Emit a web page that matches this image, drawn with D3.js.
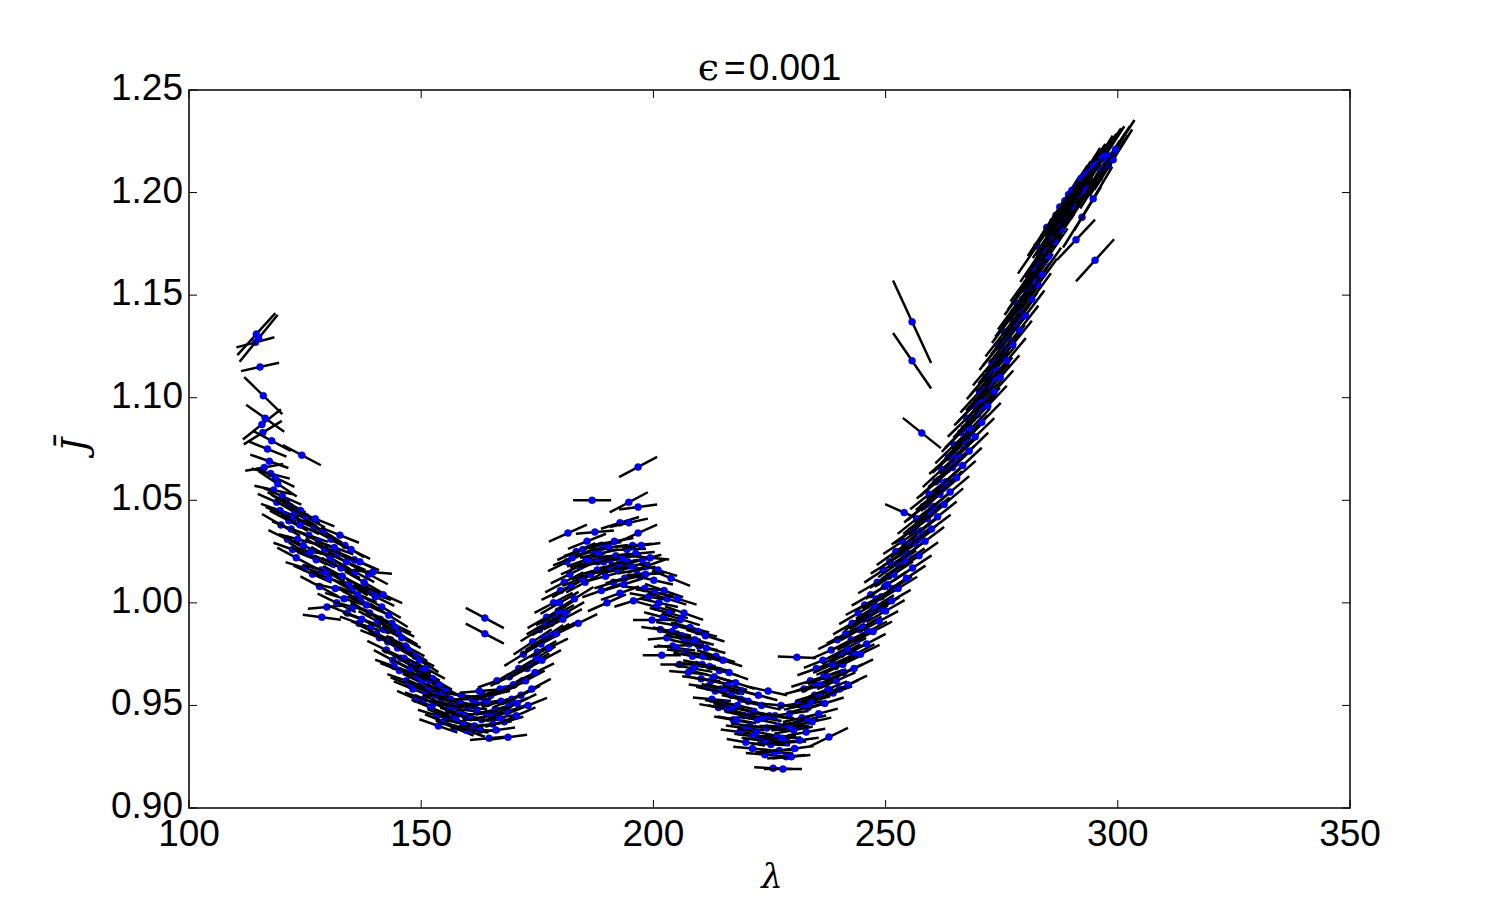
<!DOCTYPE html>
<html>
<head>
<meta charset="utf-8">
<script src="https://cdn.jsdelivr.net/npm/d3@7/dist/d3.min.js"></script>
<style>
  html, body { margin: 0; padding: 0; background: #fff; }
  svg { display: block; }
</style>
</head>
<body>
<div id="chart"></div>
<script>
// Scatter of J-bar against lambda, each point drawn with its local gradient
// as a short black segment. Rows are [lambda, jbar, slope dJ/dlambda].

const xTicks = [100, 150, 200, 250, 300, 350];
const yTicks = [0.90, 0.95, 1.00, 1.05, 1.10, 1.15, 1.20, 1.25];
const titleValue = "0.001";

// steep start, lambda 113-125
const leftBranch = [
  [114.5, 1.131, 0.0025], [114.3, 1.127, 0.0006], [115.0, 1.129, 0.0028], [115.3, 1.115, 0.0005],
  [116.0, 1.101, -0.0022], [116.4, 1.090, -0.0016], [115.7, 1.087, 0.0018], [117.8, 1.079, -0.0012],
  [115.9, 1.083, 0.0014], [116.9, 1.075, -0.0009], [117.3, 1.069, -0.0008], [116.2, 1.066, 0.0004],
  [117.6, 1.063, -0.0006], [118.6, 1.061, -0.0011], [124.3, 1.072, -0.0012], [119.1, 1.058, -0.0015],
  [118.2, 1.055, -0.0005], [120.1, 1.052, -0.0010], [121.0, 1.049, -0.0012], [119.6, 1.045, -0.0008],
  [121.8, 1.047, -0.0014], [122.5, 1.041, -0.0010]
];

// first descent, lambda 118-161
const firstDescent = [
  [121.5, 1.040, -0.0012], [122.0, 1.036, -0.0009], [122.8, 1.044, -0.0014], [123.4, 1.031, -0.0006],
  [123.9, 1.038, -0.0011], [124.6, 1.028, -0.0010], [125.2, 1.042, -0.0013], [125.8, 1.033, -0.0008],
  [126.3, 1.025, -0.0004], [126.9, 1.037, -0.0012], [127.4, 1.021, -0.0009], [127.9, 1.030, -0.0011],
  [128.5, 1.016, -0.0006], [128.6, 0.993, -0.0003], [129.2, 1.026, -0.0013], [129.7, 0.998, 0.0002],
  [130.1, 1.012, -0.0008], [130.6, 1.031, -0.0012], [131.0, 1.019, -0.0010], [131.5, 1.007, -0.0005],
  [132.0, 1.024, -0.0011], [132.5, 1.033, -0.0009], [133.0, 1.013, -0.0012], [133.4, 1.002, -0.0007],
  [133.9, 1.020, -0.0010], [134.4, 1.009, -0.0013], [134.9, 1.026, -0.0011], [135.3, 0.998, -0.0006],
  [135.8, 1.015, -0.0012], [136.3, 1.004, -0.0009], [136.8, 1.020, -0.0010], [137.2, 0.992, -0.0008],
  [137.7, 1.010, -0.0013], [138.2, 0.999, -0.0010], [138.7, 1.014, -0.0012], [139.1, 0.988, -0.0007],
  [139.6, 1.015, -0.0002], [140.1, 1.003, -0.0011], [140.6, 0.991, -0.0012], [141.0, 0.983, -0.0009],
  [141.5, 0.998, -0.0013], [142.0, 0.987, -0.0010], [142.5, 0.977, -0.0011], [143.0, 0.994, -0.0014],
  [143.4, 0.982, -0.0008], [143.9, 0.972, -0.0012], [144.4, 0.988, -0.0011], [144.9, 0.978, -0.0013],
  [145.3, 0.967, -0.0009], [145.8, 0.983, -0.0012], [146.3, 0.973, -0.0010], [146.8, 0.962, -0.0008],
  [147.2, 0.977, -0.0013], [147.7, 0.968, -0.0011], [148.2, 0.958, -0.0009], [148.7, 0.974, -0.0012],
  [149.1, 0.964, -0.0010], [149.6, 0.972, -0.0014], [150.1, 0.961, -0.0011], [150.6, 0.953, -0.0008],
  [151.0, 0.968, -0.0012], [151.5, 0.958, -0.0010], [152.0, 0.949, -0.0009], [152.5, 0.963, -0.0013],
  [153.0, 0.955, -0.0011], [153.4, 0.945, -0.0007], [153.9, 0.960, -0.0012], [154.4, 0.951, -0.0010],
  [154.9, 0.942, -0.0009], [155.3, 0.957, -0.0008], [155.8, 0.948, -0.0011], [156.3, 0.953, -0.0006],
  [156.8, 0.944, -0.0010], [157.2, 0.939, -0.0009], [157.7, 0.950, -0.0004], [158.2, 0.946, -0.0007],
  [158.7, 0.955, -0.0003], [159.1, 0.941, -0.0005], [159.6, 0.938, -0.0008], [160.1, 0.949, -0.0002],
  [160.6, 0.944, -0.0004], [161.0, 0.953, 0.0000],
  [118.9, 1.049, -0.0010], [119.8, 1.038, -0.0013], [120.6, 1.043, -0.0009], [121.2, 1.031, -0.0011],
  [122.3, 1.026, -0.0008], [123.1, 1.022, -0.0012], [124.0, 1.045, -0.0015], [124.9, 1.017, -0.0007],
  [125.6, 1.024, -0.0013], [126.6, 1.014, -0.0010], [127.2, 1.041, -0.0009], [128.1, 1.008, -0.0012],
  [128.9, 1.035, -0.0014], [129.5, 1.015, -0.0009], [130.4, 1.022, -0.0013], [131.3, 1.027, -0.0008],
  [131.8, 1.000, -0.0011], [132.7, 1.017, -0.0012], [133.6, 1.028, -0.0014], [134.1, 0.995, -0.0009],
  [135.1, 1.006, -0.0013], [135.6, 1.021, -0.0010], [136.6, 0.990, -0.0008], [137.0, 1.001, -0.0012],
  [138.0, 1.007, -0.0011], [138.9, 0.995, -0.0013], [139.4, 1.005, -0.0009], [140.4, 0.985, -0.0011],
  [141.2, 0.992, -0.0012], [141.8, 1.004, -0.0010], [142.8, 0.981, -0.0013], [143.7, 0.990, -0.0011],
  [144.2, 0.969, -0.0008], [145.1, 0.985, -0.0013], [145.6, 0.973, -0.0010], [146.6, 0.979, -0.0012],
  [147.5, 0.960, -0.0009], [148.0, 0.970, -0.0011], [148.9, 0.953, -0.0010], [149.9, 0.967, -0.0012],
  [150.8, 0.957, -0.0013], [151.8, 0.962, -0.0011], [152.7, 0.951, -0.0010], [153.7, 0.940, -0.0008],
  [154.6, 0.956, -0.0012], [155.6, 0.944, -0.0010], [156.5, 0.949, -0.0009], [157.5, 0.943, -0.0007],
  [158.5, 0.951, -0.0006], [159.4, 0.945, -0.0004], [160.4, 0.938, -0.0003]
];

// first minimum, lambda 161-170
const firstMinimum = [
  [161.5, 0.940, 0.0001], [162.0, 0.947, -0.0003], [162.5, 0.957, 0.0002], [163.0, 0.943, 0.0000],
  [163.5, 0.951, 0.0004], [163.7, 0.9926, -0.0012], [163.7, 0.985, -0.0012], [164.0, 0.946, 0.0001],
  [164.6, 0.934, 0.0002], [165.0, 0.955, 0.0005], [165.4, 0.941, 0.0003], [165.9, 0.948, 0.0006],
  [166.3, 0.962, 0.0008], [166.8, 0.944, 0.0004], [167.2, 0.952, 0.0007], [168.7, 0.9345, 0.0003],
  [168.1, 0.958, 0.0009], [168.6, 0.947, 0.0008], [169.0, 0.964, 0.0011], [169.5, 0.953, 0.0010],
  [161.8, 0.951, 0.0002], [162.8, 0.938, -0.0001], [163.3, 0.955, 0.0003], [164.3, 0.951, 0.0002],
  [165.2, 0.945, 0.0004], [166.1, 0.938, 0.0003], [167.0, 0.958, 0.0008], [167.9, 0.942, 0.0006],
  [168.9, 0.950, 0.0009], [169.8, 0.960, 0.0012]
];

// rise and central hump, lambda 170-207
const centralHump = [
  [170.0, 0.960, 0.0012], [170.5, 0.945, 0.0010], [171.0, 0.968, 0.0013], [171.5, 0.955, 0.0011],
  [172.0, 0.975, 0.0014], [172.5, 0.962, 0.0012], [173.0, 0.950, 0.0009], [173.5, 0.970, 0.0013],
  [174.0, 0.981, 0.0015], [174.5, 0.966, 0.0011], [175.0, 0.976, 0.0013], [175.5, 0.987, 0.0014],
  [176.0, 0.972, 0.0012], [176.5, 0.983, 0.0015], [177.0, 0.993, 0.0013], [177.5, 0.978, 0.0011],
  [178.0, 0.990, 0.0014], [178.5, 1.000, 0.0012], [179.0, 0.985, 0.0013], [179.5, 0.996, 0.0015],
  [180.0, 1.006, 0.0011], [180.5, 0.992, 0.0012], [181.0, 0.995, 0.0013], [181.6, 1.034, 0.0010],
  [182.0, 1.014, 0.0011], [182.5, 1.022, 0.0009], [183.0, 1.002, 0.0014], [183.8, 0.990, 0.0011],
  [184.2, 1.018, 0.0010], [184.8, 1.026, 0.0008], [185.3, 1.010, 0.0012], [185.7, 1.030, 0.0009],
  [186.2, 1.020, 0.0007], [186.8, 1.050, 0.0000], [187.4, 1.0345, 0.0002], [187.9, 1.016, 0.0006],
  [188.3, 1.024, 0.0005], [188.8, 1.006, 0.0008], [189.3, 1.020, 0.0004], [190.0, 1.000, 0.0010],
  [190.4, 1.027, 0.0003], [190.9, 1.017, 0.0006], [191.4, 1.010, 0.0007], [191.9, 1.023, 0.0002],
  [192.3, 1.016, 0.0004], [192.8, 1.039, 0.0007], [192.8, 1.0047, 0.0008], [193.3, 1.022, 0.0003],
  [193.8, 1.012, 0.0006], [194.3, 1.026, 0.0001], [194.7, 1.049, 0.0012], [194.7, 1.039, 0.0005],
  [195.2, 1.018, 0.0004], [195.7, 1.001, 0.0007], [196.2, 1.024, 0.0002], [196.7, 1.0662, 0.0012],
  [196.7, 1.0467, 0.0003], [196.7, 1.034, 0.0010], [197.1, 1.013, 0.0005], [197.6, 1.021, 0.0006],
  [198.1, 1.007, -0.0002], [198.6, 1.018, 0.0008], [199.0, 1.003, -0.0004], [199.7, 0.9916, 0.0000],
  [200.1, 1.011, -0.0005], [200.6, 0.998, -0.0006], [201.0, 1.016, -0.0007], [201.5, 0.987, -0.0003],
  [201.8, 0.9745, 0.0000], [202.3, 1.006, -0.0008], [202.9, 0.983, 0.0002], [203.3, 0.995, -0.0006],
  [203.8, 1.012, -0.0009], [204.2, 0.979, 0.0001], [204.7, 0.989, -0.0004], [205.2, 1.002, -0.0007],
  [205.6, 0.970, 0.0000], [206.1, 0.984, -0.0005], [206.6, 0.995, -0.0008],
  [170.7, 0.951, 0.0011], [171.8, 0.962, 0.0013], [172.8, 0.968, 0.0012], [173.8, 0.958, 0.0012],
  [174.8, 0.973, 0.0014], [175.8, 0.980, 0.0012], [176.8, 0.990, 0.0013], [177.8, 0.984, 0.0014],
  [178.8, 0.994, 0.0012], [179.8, 1.000, 0.0013], [180.8, 1.010, 0.0012], [181.4, 1.020, 0.0011],
  [182.3, 1.008, 0.0013], [183.4, 1.025, 0.0010], [184.5, 1.012, 0.0009], [185.5, 1.021, 0.0008],
  [186.5, 1.014, 0.0006], [187.1, 1.025, 0.0005], [188.0, 1.020, 0.0007], [189.0, 1.028, 0.0004],
  [189.7, 1.013, 0.0006], [190.7, 1.021, 0.0005], [191.6, 1.030, 0.0004], [192.6, 1.019, 0.0005],
  [193.6, 1.009, 0.0007], [194.5, 1.020, 0.0003], [195.5, 1.028, 0.0002], [196.4, 1.016, 0.0004],
  [197.4, 1.028, 0.0003], [198.3, 1.014, 0.0001], [199.3, 1.022, -0.0002], [200.3, 1.005, -0.0004],
  [201.2, 1.000, -0.0005], [202.1, 0.993, -0.0006], [203.0, 1.002, -0.0007], [204.0, 0.986, -0.0005],
  [204.9, 0.978, -0.0003], [205.9, 0.992, -0.0007], [206.8, 0.982, -0.0006]
];

// second descent and minimum, lambda 207-240
const secondMinimum = [
  [207.0, 0.976, -0.0003], [207.5, 0.966, -0.0002], [207.9, 0.988, -0.0006], [208.4, 0.974, -0.0004],
  [208.9, 0.982, -0.0006], [209.3, 0.970, -0.0002], [209.8, 0.979, -0.0005], [210.3, 0.963, -0.0003],
  [210.7, 0.974, -0.0006], [211.2, 0.984, -0.0007], [211.7, 0.959, -0.0003], [212.1, 0.969, -0.0005],
  [212.6, 0.953, -0.0002], [213.1, 0.964, -0.0006], [213.5, 0.974, -0.0007], [214.0, 0.949, -0.0004],
  [214.5, 0.958, -0.0006], [215.0, 0.972, -0.0007], [215.4, 0.958, -0.0006], [215.9, 0.948, -0.0005],
  [216.3, 0.966, -0.0008], [216.8, 0.955, -0.0006], [217.2, 0.943, -0.0004], [217.7, 0.961, -0.0007],
  [218.1, 0.950, -0.0005], [218.6, 0.937, -0.0003], [219.0, 0.957, -0.0006], [219.5, 0.945, -0.0005],
  [219.9, 0.932, -0.0004], [220.4, 0.952, -0.0006], [220.8, 0.940, -0.0003], [221.3, 0.929, -0.0002],
  [221.7, 0.947, -0.0005], [222.2, 0.937, -0.0004], [222.6, 0.955, -0.0006], [223.1, 0.933, -0.0003],
  [223.5, 0.944, -0.0004], [224.0, 0.926, -0.0002], [224.4, 0.939, -0.0003], [224.7, 0.957, -0.0005],
  [225.3, 0.931, -0.0001], [225.8, 0.9194, -0.0001], [226.2, 0.945, -0.0003], [226.6, 0.935, 0.0000],
  [227.1, 0.928, 0.0001], [227.5, 0.950, -0.0002], [227.9, 0.919, 0.0000], [228.4, 0.940, 0.0002],
  [228.8, 0.932, 0.0001], [229.3, 0.946, 0.0003], [229.7, 0.925, 0.0002], [230.2, 0.938, 0.0004],
  [230.9, 0.9735, -0.0001], [231.1, 0.951, 0.0004], [231.5, 0.933, 0.0003], [232.0, 0.944, 0.0005],
  [232.4, 0.958, 0.0006], [232.9, 0.937, 0.0004], [233.3, 0.949, 0.0006], [233.8, 0.962, 0.0007],
  [234.2, 0.942, 0.0005], [234.7, 0.955, 0.0007], [235.1, 0.968, 0.0008], [235.6, 0.946, 0.0006],
  [236.0, 0.960, 0.0008], [236.5, 0.972, 0.0009], [236.9, 0.951, 0.0007], [237.4, 0.964, 0.0009],
  [237.8, 0.9346, 0.0011], [238.3, 0.977, 0.0010], [238.7, 0.956, 0.0008], [239.2, 0.969, 0.0010],
  [239.6, 0.982, 0.0011],
  [207.7, 0.980, -0.0005], [208.6, 0.968, -0.0004], [209.6, 0.986, -0.0006], [210.5, 0.970, -0.0005],
  [211.4, 0.978, -0.0006], [212.4, 0.962, -0.0004], [213.3, 0.957, -0.0005], [214.2, 0.967, -0.0006],
  [215.2, 0.951, -0.0004], [216.1, 0.960, -0.0006], [217.0, 0.949, -0.0005], [218.0, 0.943, -0.0004],
  [218.8, 0.953, -0.0005], [219.7, 0.939, -0.0003], [220.6, 0.945, -0.0005], [221.5, 0.935, -0.0003],
  [222.4, 0.943, -0.0004], [223.3, 0.950, -0.0005], [224.2, 0.933, -0.0002], [225.0, 0.945, -0.0003],
  [226.0, 0.927, -0.0001], [226.9, 0.940, 0.0000], [227.7, 0.934, 0.0001], [228.6, 0.925, 0.0002],
  [229.5, 0.939, 0.0003], [230.4, 0.929, 0.0003], [231.3, 0.942, 0.0004], [232.2, 0.950, 0.0005],
  [233.1, 0.943, 0.0005], [234.0, 0.952, 0.0006], [234.9, 0.960, 0.0007], [235.8, 0.955, 0.0008],
  [236.7, 0.964, 0.0008], [237.6, 0.958, 0.0009], [238.5, 0.970, 0.0010], [239.4, 0.962, 0.0010]
];

// final rise, lambda 240-300
const finalRise = [
  [240.1, 0.958, 0.0011], [240.5, 0.975, 0.0012], [241.0, 0.966, 0.0010], [241.4, 0.985, 0.0012],
  [241.9, 0.960, 0.0011], [242.3, 0.976, 0.0012], [242.8, 0.990, 0.0013], [243.2, 0.968, 0.0011],
  [243.7, 0.982, 0.0012], [244.1, 0.995, 0.0013], [244.6, 0.975, 0.0011], [245.0, 0.988, 0.0013],
  [245.5, 0.999, 0.0012], [245.9, 0.980, 0.0012], [246.4, 0.993, 0.0014], [246.8, 1.004, 0.0013],
  [247.3, 0.986, 0.0012], [247.7, 0.998, 0.0014], [248.2, 1.010, 0.0013], [248.6, 0.991, 0.0012],
  [249.1, 1.003, 0.0014], [249.5, 1.016, 0.0015], [250.0, 0.996, 0.0013], [250.4, 1.009, 0.0015],
  [250.9, 1.020, 0.0014], [251.3, 1.001, 0.0013], [251.8, 1.014, 0.0015], [252.2, 1.025, 0.0016],
  [252.7, 1.007, 0.0014], [253.1, 1.018, 0.0016], [254.0, 1.044, -0.0010], [253.6, 1.030, 0.0015],
  [254.5, 1.012, 0.0015], [254.9, 1.024, 0.0017], [255.4, 1.035, 0.0016], [255.7, 1.137, -0.0049],
  [255.7, 1.118, -0.0033], [255.8, 1.017, 0.0015], [256.3, 1.029, 0.0017], [256.7, 1.041, 0.0018],
  [257.2, 1.023, 0.0016], [257.6, 1.035, 0.0018], [257.8, 1.0828, -0.0018], [258.1, 1.047, 0.0019],
  [258.5, 1.030, 0.0017], [259.0, 1.041, 0.0019], [259.4, 1.053, 0.0018], [259.9, 1.036, 0.0017],
  [260.3, 1.047, 0.0019], [260.8, 1.059, 0.0020], [261.2, 1.042, 0.0018], [261.7, 1.053, 0.0020],
  [262.1, 1.065, 0.0021], [262.6, 1.048, 0.0019], [263.0, 1.059, 0.0021], [263.5, 1.071, 0.0020],
  [263.9, 1.054, 0.0019], [264.4, 1.066, 0.0021], [264.8, 1.077, 0.0022], [265.3, 1.061, 0.0020],
  [265.7, 1.072, 0.0022], [266.2, 1.083, 0.0023], [266.6, 1.067, 0.0021], [267.1, 1.079, 0.0023],
  [267.5, 1.090, 0.0022], [268.0, 1.074, 0.0022], [268.4, 1.085, 0.0024], [268.9, 1.096, 0.0023],
  [269.3, 1.081, 0.0022], [269.8, 1.092, 0.0024], [270.2, 1.103, 0.0025], [270.7, 1.088, 0.0023],
  [271.1, 1.099, 0.0025], [271.6, 1.110, 0.0026], [272.0, 1.096, 0.0024], [272.5, 1.106, 0.0026],
  [272.9, 1.117, 0.0027], [273.4, 1.103, 0.0025], [273.8, 1.114, 0.0027], [274.3, 1.125, 0.0028],
  [274.7, 1.110, 0.0026], [275.2, 1.121, 0.0028], [275.6, 1.132, 0.0029], [276.1, 1.118, 0.0027],
  [276.5, 1.129, 0.0029], [277.0, 1.139, 0.0030], [277.4, 1.126, 0.0028], [277.9, 1.136, 0.0030],
  [278.3, 1.146, 0.0031], [278.8, 1.133, 0.0029], [279.2, 1.143, 0.0031], [279.7, 1.153, 0.0031],
  [280.1, 1.140, 0.0030], [280.6, 1.150, 0.0032], [281.0, 1.160, 0.0032], [281.5, 1.148, 0.0031],
  [281.9, 1.157, 0.0032], [282.6, 1.174, 0.0033], [282.8, 1.155, 0.0031], [283.3, 1.165, 0.0033],
  [283.7, 1.160, 0.0032], [284.2, 1.172, 0.0033], [284.7, 1.183, 0.0034], [285.1, 1.169, 0.0033],
  [285.6, 1.178, 0.0034], [286.0, 1.186, 0.0034], [286.5, 1.176, 0.0033], [286.9, 1.184, 0.0034],
  [287.5, 1.193, 0.0035], [287.8, 1.182, 0.0034], [288.3, 1.190, 0.0035], [288.6, 1.196, 0.0035],
  [289.2, 1.188, 0.0034], [289.6, 1.195, 0.0035], [290.1, 1.201, 0.0035], [290.5, 1.193, 0.0034],
  [291.0, 1.177, 0.0024], [291.4, 1.199, 0.0035], [291.9, 1.205, 0.0035], [292.3, 1.188, 0.0036],
  [292.8, 1.203, 0.0035], [293.2, 1.209, 0.0036], [294.0, 1.202, 0.0036], [294.5, 1.211, 0.0035],
  [294.7, 1.197, 0.0038], [295.1, 1.167, 0.0025], [295.6, 1.214, 0.0036], [296.0, 1.207, 0.0036],
  [296.6, 1.217, 0.0035], [297.1, 1.212, 0.0036], [297.6, 1.215, 0.0035], [298.0, 1.213, 0.0036],
  [298.5, 1.218, 0.0035], [299.0, 1.216, 0.0036], [299.5, 1.221, 0.0035],
  [240.8, 0.970, 0.0011], [241.7, 0.978, 0.0012], [242.6, 0.982, 0.0012], [243.5, 0.975, 0.0012],
  [244.4, 0.987, 0.0013], [245.3, 0.992, 0.0013], [246.2, 0.986, 0.0012], [247.1, 0.996, 0.0014],
  [248.0, 1.002, 0.0013], [248.9, 0.997, 0.0014], [249.8, 1.008, 0.0015], [250.7, 1.013, 0.0014],
  [251.6, 1.007, 0.0014], [252.5, 1.019, 0.0016], [253.4, 1.024, 0.0015], [254.3, 1.020, 0.0016],
  [255.2, 1.029, 0.0017], [256.1, 1.036, 0.0017], [257.0, 1.031, 0.0017], [257.9, 1.041, 0.0018],
  [258.8, 1.048, 0.0019], [259.7, 1.044, 0.0018], [260.6, 1.053, 0.0019], [261.5, 1.060, 0.0020],
  [262.4, 1.056, 0.0020], [263.3, 1.065, 0.0021], [264.2, 1.072, 0.0021], [265.1, 1.068, 0.0021],
  [266.0, 1.077, 0.0022], [266.9, 1.085, 0.0023], [267.8, 1.082, 0.0023], [268.7, 1.090, 0.0023],
  [269.6, 1.098, 0.0024], [270.5, 1.095, 0.0024], [271.4, 1.104, 0.0025], [272.3, 1.112, 0.0026],
  [273.2, 1.109, 0.0026], [274.1, 1.118, 0.0027], [275.0, 1.127, 0.0028], [275.9, 1.124, 0.0028],
  [276.8, 1.133, 0.0029], [277.7, 1.142, 0.0030], [278.6, 1.139, 0.0030], [279.5, 1.148, 0.0031],
  [280.4, 1.156, 0.0032], [281.3, 1.153, 0.0031], [282.2, 1.163, 0.0032], [283.1, 1.170, 0.0033],
  [284.0, 1.166, 0.0033], [284.9, 1.176, 0.0034], [285.8, 1.182, 0.0034], [286.7, 1.189, 0.0034],
  [287.6, 1.186, 0.0035], [288.5, 1.193, 0.0035], [289.4, 1.199, 0.0035], [290.3, 1.197, 0.0035],
  [291.2, 1.203, 0.0035], [292.1, 1.207, 0.0036], [293.0, 1.200, 0.0036], [293.9, 1.210, 0.0035],
  [294.8, 1.213, 0.0036], [296.3, 1.211, 0.0035], [297.3, 1.218, 0.0035]
];

// interleave the groups by lambda so overdraw resembles a single sweep
const points = [].concat(leftBranch, firstDescent, firstMinimum, centralHump, secondMinimum, finalRise)
  .slice()
  .sort((a, b) => a[0] - b[0]);

// --- layout ---------------------------------------------------------------
const W = 1500, H = 900;
const plotLeft = 189, plotRight = 1350, plotTop = 90, plotBottom = 808;
const HALF_SPAN = 4.1;   // half width of a gradient segment, in lambda units

const x = d3.scaleLinear().domain([100, 350]).range([plotLeft, plotRight]);
const y = d3.scaleLinear().domain([0.90, 1.25]).range([plotBottom, plotTop]);

const svg = d3.select("#chart").append("svg")
  .attr("width", W)
  .attr("height", H);

svg.append("rect")
  .attr("width", W).attr("height", H)
  .attr("fill", "#fff");

// marks: segment then dot, point by point, so later segments cover earlier dots
const marks = svg.append("g").attr("class", "marks");
const pg = marks.selectAll("g")
  .data(points)
  .enter()
  .append("g");

pg.append("line")
  .attr("x1", (d) => x(d[0] - HALF_SPAN))
  .attr("y1", (d) => y(d[1] - HALF_SPAN * d[2]))
  .attr("x2", (d) => x(d[0] + HALF_SPAN))
  .attr("y2", (d) => y(d[1] + HALF_SPAN * d[2]))
  .attr("stroke", "#000")
  .attr("stroke-width", 2.5);

pg.append("circle")
  .attr("cx", (d) => x(d[0]))
  .attr("cy", (d) => y(d[1]))
  .attr("r", 3.5)
  .attr("fill", "#0000ff")
  .attr("stroke", "#00008a")
  .attr("stroke-width", 0.5);

// frame and inward ticks on all four sides
const axes = svg.append("g").attr("class", "axes");
const TICK = 8;

axes.selectAll("line.xb").data(xTicks).enter().append("line")
  .attr("x1", (d) => x(d)).attr("x2", (d) => x(d))
  .attr("y1", plotBottom).attr("y2", plotBottom - TICK)
  .attr("stroke", "#000").attr("stroke-width", 1);
axes.selectAll("line.xt").data(xTicks).enter().append("line")
  .attr("x1", (d) => x(d)).attr("x2", (d) => x(d))
  .attr("y1", plotTop).attr("y2", plotTop + TICK)
  .attr("stroke", "#000").attr("stroke-width", 1);
axes.selectAll("line.yl").data(yTicks).enter().append("line")
  .attr("x1", plotLeft).attr("x2", plotLeft + TICK)
  .attr("y1", (d) => y(d)).attr("y2", (d) => y(d))
  .attr("stroke", "#000").attr("stroke-width", 1);
axes.selectAll("line.yr").data(yTicks).enter().append("line")
  .attr("x1", plotRight).attr("x2", plotRight - TICK)
  .attr("y1", (d) => y(d)).attr("y2", (d) => y(d))
  .attr("stroke", "#000").attr("stroke-width", 1);

axes.append("rect")
  .attr("x", plotLeft).attr("y", plotTop)
  .attr("width", plotRight - plotLeft).attr("height", plotBottom - plotTop)
  .attr("fill", "none")
  .attr("stroke", "#000")
  .attr("stroke-width", 1.5);

const tickFont = "'Liberation Sans', Arial, sans-serif";

axes.selectAll("text.xl").data(xTicks).enter().append("text")
  .attr("x", (d) => x(d))
  .attr("y", plotBottom + 38)
  .attr("text-anchor", "middle")
  .attr("font-family", tickFont)
  .attr("font-size", "37px")
  .text((d) => d3.format("d")(d));

axes.selectAll("text.yl").data(yTicks).enter().append("text")
  .attr("x", plotLeft - 6)
  .attr("y", (d) => y(d) + 10)
  .attr("text-anchor", "end")
  .attr("font-family", tickFont)
  .attr("font-size", "37px")
  .text((d) => d3.format(".2f")(d));

// title: epsilon = 0.001
const title = svg.append("text")
  .attr("x", (plotLeft + plotRight) / 2)
  .attr("y", 80)
  .attr("text-anchor", "middle")
  .attr("font-family", tickFont)
  .attr("font-size", "37px");
title.append("tspan")
  .attr("font-family", "'DejaVu Serif', serif")
  .attr("font-size", "38px")
  .text("\u03F5");
title.append("tspan")
  .attr("dx", 5)
  .text("=");
title.append("tspan")
  .attr("dx", 3)
  .text(titleValue);

// axis labels
svg.append("text")
  .attr("x", 772)
  .attr("y", 888)
  .attr("text-anchor", "middle")
  .attr("font-family", "'DejaVu Serif', serif")
  .attr("font-style", "italic")
  .attr("font-size", "34px")
  .text("\u03BB");

svg.append("text")
  .attr("transform", "translate(87, 445) rotate(-90)")
  .attr("text-anchor", "middle")
  .attr("font-family", "'DejaVu Serif', serif")
  .attr("font-style", "italic")
  .attr("font-size", "36px")
  .text("J\u0304");
</script>
</body>
</html>
